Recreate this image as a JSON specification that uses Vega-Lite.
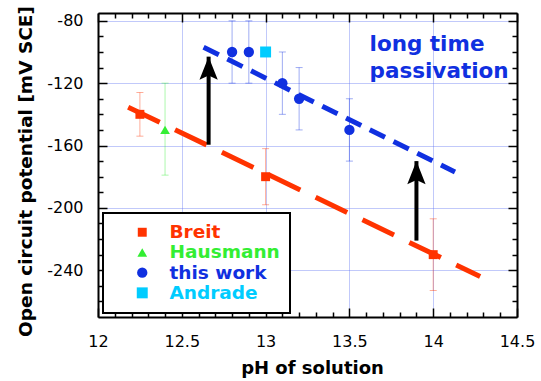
{
  "$schema": "https://vega.github.io/schema/vega-lite/v6.json",
  "width": 419,
  "height": 304,
  "autosize": {"type": "none"},
  "padding": {"left": 98, "top": 13, "right": 24, "bottom": 64},
  "background": "white",
  "config": {"view": {"stroke": null}},
  "datasets": {
    "pts": [
      {"series": "Breit", "ph": 12.25, "e": -140, "lo": -154, "hi": -126},
      {"series": "Breit", "ph": 13.0, "e": -180, "lo": -198, "hi": -162},
      {"series": "Breit", "ph": 14.0, "e": -230, "lo": -253, "hi": -207},
      {"series": "Hausmann", "ph": 12.4, "e": -150, "lo": -179, "hi": -120},
      {"series": "this work", "ph": 12.8, "e": -100, "lo": -120, "hi": -80},
      {"series": "this work", "ph": 12.9, "e": -100, "lo": -120, "hi": -80},
      {"series": "this work", "ph": 13.1, "e": -120, "lo": -140, "hi": -100},
      {"series": "this work", "ph": 13.2, "e": -130, "lo": -150, "hi": -110},
      {"series": "this work", "ph": 13.5, "e": -150, "lo": -170, "hi": -130},
      {"series": "Andrade", "ph": 13.0, "e": -100, "lo": null, "hi": null}
    ],
    "redline": [
      {"ph": 12.18, "e": -135.4},
      {"ph": 14.28, "e": -244}
    ],
    "blueline": [
      {"ph": 12.63, "e": -97},
      {"ph": 14.13, "e": -177}
    ],
    "arrows": [
      {"ph": 12.66, "base": -159.5, "tip": -103},
      {"ph": 13.9, "base": -221, "tip": -170}
    ],
    "notes": [
      {"ph": 13.62, "e": -99.6, "label": "long time"},
      {"ph": 13.62, "e": -116.7, "label": "passivation"}
    ]
  },
  "resolve": {"axis": {"x": "independent", "y": "independent"}},
  "layer": [
    {
      "mark": {"type": "rect", "color": "black"},
      "encoding": {
        "x": {"datum": 12.06, "type": "quantitative", "scale": {"domain": [12, 14.5], "nice": false, "zero": false}, "axis": null},
        "x2": {"datum": 13.175},
        "y": {"datum": -206, "type": "quantitative", "scale": {"domain": [-270, -75], "nice": false, "zero": false}, "axis": null},
        "y2": {"datum": -266.5}
      }
    },
    {
      "data": {"name": "pts"},
      "transform": [{"filter": "datum.lo != null"}],
      "mark": {"type": "rule", "strokeWidth": 1, "opacity": 0.4},
      "encoding": {
        "x": {"field": "ph", "type": "quantitative", "axis": null},
        "y": {"field": "lo", "type": "quantitative", "axis": null},
        "y2": {"field": "hi"},
        "color": {"field": "series", "type": "nominal"}
      }
    },
    {
      "data": {"name": "pts"},
      "transform": [{"filter": "datum.lo != null"}],
      "mark": {"type": "tick", "orient": "horizontal", "size": 7, "thickness": 1, "opacity": 0.4},
      "encoding": {
        "x": {"field": "ph", "type": "quantitative", "axis": null},
        "y": {"field": "lo", "type": "quantitative", "axis": null},
        "color": {"field": "series", "type": "nominal"}
      }
    },
    {
      "data": {"name": "pts"},
      "transform": [{"filter": "datum.lo != null"}],
      "mark": {"type": "tick", "orient": "horizontal", "size": 7, "thickness": 1, "opacity": 0.4},
      "encoding": {
        "x": {"field": "ph", "type": "quantitative", "axis": null},
        "y": {"field": "hi", "type": "quantitative", "axis": null},
        "color": {"field": "series", "type": "nominal"}
      }
    },
    {
      "data": {"name": "redline"},
      "mark": {"type": "line", "color": "#ff3300", "strokeWidth": 5, "strokeDash": [35, 17]},
      "encoding": {
        "x": {"field": "ph", "type": "quantitative", "axis": {
          "orient": "bottom", "values": [12, 12.5, 13, 13.5, 14, 14.5], "labelExpr": "'' + datum.value",
          "tickSize": -9, "tickWidth": 1.5, "tickColor": "black", "domainColor": "black", "domainWidth": 2,
          "grid": true, "gridColor": "#5a6ff0", "gridDash": [1, 1], "gridWidth": 1, "gridOpacity": 0.75,
          "labelFont": "DejaVu Sans", "labelFontSize": 16, "labelColor": "black", "labelPadding": 25,
          "labelFlush": false, "labelOverlap": false,
          "title": "pH of solution", "titleFont": "DejaVu Sans", "titleFontSize": 18, "titleFontWeight": "bold",
          "titleColor": "black", "titleX": 214, "titleY": 56, "titleBaseline": "alphabetic"
        }},
        "y": {"field": "e", "type": "quantitative", "axis": {
          "orient": "left", "values": [-80, -120, -160, -200, -240], "labelExpr": "'' + datum.value",
          "tickSize": -9, "tickWidth": 1.5, "tickColor": "black", "domainColor": "black", "domainWidth": 2,
          "grid": true, "gridColor": "#5a6ff0", "gridDash": [1, 1], "gridWidth": 1, "gridOpacity": 0.75,
          "labelFont": "DejaVu Sans", "labelFontSize": 16, "labelColor": "black", "labelPadding": 24,
          "labelFlush": false, "labelOverlap": false,
          "title": "Open circuit potential [mV SCE]", "titleFont": "DejaVu Sans", "titleFontSize": 18.5, "titleFontWeight": "bold",
          "titleColor": "black", "titleX": -67, "titleY": 158, "titleBaseline": "alphabetic", "titleAngle": -90
        }}
      }
    },
    {
      "data": {"name": "blueline"},
      "mark": {"type": "line", "color": "#1030e0", "strokeWidth": 5, "strokeDash": [17, 9.5]},
      "encoding": {
        "x": {"field": "ph", "type": "quantitative", "axis": {
          "orient": "bottom", "values": [12.1, 12.2, 12.3, 12.4, 12.6, 12.7, 12.8, 12.9, 13.1, 13.2, 13.3, 13.4, 13.6, 13.7, 13.8, 13.9, 14.1, 14.2, 14.3, 14.4],
          "tickSize": -5, "tickWidth": 1.5, "tickColor": "black", "labels": false, "domain": false, "grid": false, "title": null
        }},
        "y": {"field": "e", "type": "quantitative", "axis": {
          "orient": "left", "values": [-260, -250, -230, -220, -210, -190, -180, -170, -150, -140, -130, -110, -100, -90],
          "tickSize": -5, "tickWidth": 1.5, "tickColor": "black", "labels": false, "domain": false, "grid": false, "title": null
        }}
      }
    },
    {
      "data": {"name": "arrows"},
      "mark": {"type": "rule", "color": "black", "strokeWidth": 4},
      "encoding": {
        "x": {"field": "ph", "type": "quantitative", "axis": {
          "orient": "top", "values": [12, 12.5, 13, 13.5, 14, 14.5],
          "tickSize": -9, "tickWidth": 1.5, "tickColor": "black", "labels": false, "domain": true, "domainColor": "black", "domainWidth": 2, "grid": false, "title": null
        }},
        "y": {"field": "base", "type": "quantitative", "axis": {
          "orient": "right", "values": [-80, -120, -160, -200, -240],
          "tickSize": -9, "tickWidth": 1.5, "tickColor": "black", "labels": false, "domain": true, "domainColor": "black", "domainWidth": 2, "grid": false, "title": null
        }},
        "y2": {"field": "tip"}
      }
    },
    {
      "data": {"name": "arrows"},
      "mark": {"type": "point", "shape": "M0,-1L0.75,0.9L0,0.55L-0.75,0.9Z", "size": 595, "filled": true, "color": "black", "opacity": 1, "strokeWidth": 0, "yOffset": 12.2},
      "encoding": {
        "x": {"field": "ph", "type": "quantitative", "axis": {
          "orient": "top", "values": [12.1, 12.2, 12.3, 12.4, 12.6, 12.7, 12.8, 12.9, 13.1, 13.2, 13.3, 13.4, 13.6, 13.7, 13.8, 13.9, 14.1, 14.2, 14.3, 14.4],
          "tickSize": -5, "tickWidth": 1.5, "tickColor": "black", "labels": false, "domain": false, "grid": false, "title": null
        }},
        "y": {"field": "tip", "type": "quantitative", "axis": {
          "orient": "right", "values": [-260, -250, -230, -220, -210, -190, -180, -170, -150, -140, -130, -110, -100, -90],
          "tickSize": -5, "tickWidth": 1.5, "tickColor": "black", "labels": false, "domain": false, "grid": false, "title": null
        }}
      }
    },
    {
      "data": {"name": "pts"},
      "mark": {"type": "point", "filled": true, "opacity": 1, "strokeWidth": 0},
      "encoding": {
        "x": {"field": "ph", "type": "quantitative", "axis": null},
        "y": {"field": "e", "type": "quantitative", "axis": null},
        "color": {
          "field": "series", "type": "nominal",
          "scale": {"domain": ["Breit", "Hausmann", "this work", "Andrade"], "range": ["#ff3300", "#33ee33", "#1030e0", "#00ccff"]},
          "legend": {
            "title": null, "orient": "none", "legendX": 5, "legendY": 200,
            "padding": 10, "symbolOffset": 20, "labelOffset": 18, "rowPadding": 1.2,
            "labelFont": "DejaVu Sans", "labelFontSize": 18.5, "labelFontWeight": "bold",
            "strokeColor": "black", "fillColor": "white", "cornerRadius": 0,
            "symbolOpacity": 1, "symbolStrokeWidth": 0,
            "encode": {
              "legend": {"update": {"strokeWidth": {"value": 2}}},
              "labels": {"update": {"fill": {"signal": "scale('color', datum.value)"}}}
            }
          }
        },
        "shape": {
          "field": "series", "type": "nominal",
          "scale": {"domain": ["Breit", "Hausmann", "this work", "Andrade"], "range": ["square", "triangle-up", "circle", "square"]}
        },
        "size": {
          "field": "series", "type": "nominal",
          "scale": {"domain": ["Breit", "Hausmann", "this work", "Andrade"], "range": [80, 120, 105, 160]}
        }
      }
    },
    {
      "data": {"name": "notes"},
      "mark": {"type": "text", "align": "left", "baseline": "alphabetic", "font": "DejaVu Sans", "fontSize": 21.5, "fontWeight": "bold", "color": "#1030e0"},
      "encoding": {
        "x": {"field": "ph", "type": "quantitative", "axis": null},
        "y": {"field": "e", "type": "quantitative", "axis": null},
        "text": {"field": "label"}
      }
    }
  ]
}
